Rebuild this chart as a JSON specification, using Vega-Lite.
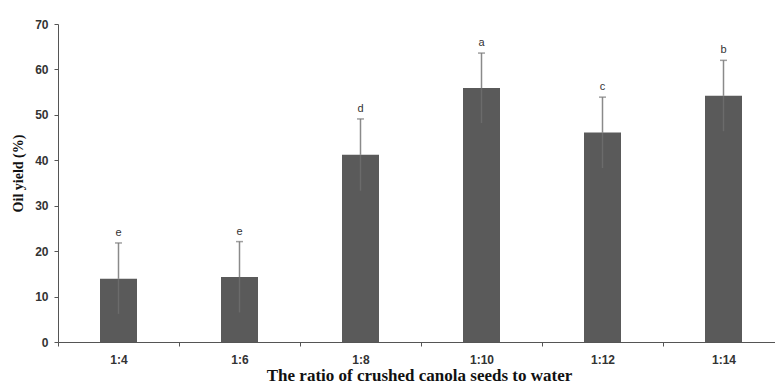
{
  "$schema": "https://vega.github.io/schema/vega-lite/v6.json",
  "width": 717,
  "height": 318,
  "autosize": "none",
  "padding": {"left": 58, "top": 24, "right": 0, "bottom": 43},
  "background": "white",
  "config": {"view": {"stroke": null}},
  "data": {
    "values": [
      {"ratio": "1:4", "yield": 13.9, "low": 6.2, "high": 21.8, "letter": "e"},
      {"ratio": "1:6", "yield": 14.3, "low": 6.5, "high": 22.1, "letter": "e"},
      {"ratio": "1:8", "yield": 41.2, "low": 33.3, "high": 49.1, "letter": "d"},
      {"ratio": "1:10", "yield": 55.9, "low": 48.2, "high": 63.6, "letter": "a"},
      {"ratio": "1:12", "yield": 46.1, "low": 38.3, "high": 53.9, "letter": "c"},
      {"ratio": "1:14", "yield": 54.2, "low": 46.4, "high": 62.0, "letter": "b"}
    ]
  },
  "encoding": {
    "x": {
      "field": "ratio",
      "type": "nominal",
      "sort": null,
      "scale": {"type": "band", "paddingInner": 0, "paddingOuter": 0, "range": [0, 726]},
      "axis": {
        "title": "The ratio of crushed canola seeds to water",
        "titleFont": "Liberation Serif",
        "titleFontSize": 17,
        "titleFontWeight": "bold",
        "titleColor": "#111",
        "titlePadding": 2,
        "titleX": 361,
        "labelAngle": 0,
        "labelFont": "Liberation Sans",
        "labelFontSize": 12,
        "labelFontWeight": "bold",
        "labelColor": "#333",
        "labelPadding": 8,
        "tickBand": "extent",
        "tickSize": 4,
        "tickColor": "#555",
        "domainColor": "#555",
        "grid": false
      }
    }
  },
  "layer": [
    {
      "mark": {"type": "bar", "size": 37, "color": "#5a5a5a"},
      "encoding": {
        "y": {
          "field": "yield",
          "type": "quantitative",
          "scale": {"domain": [0, 70]},
          "axis": {
            "title": "Oil yield (%)",
            "titleFont": "Liberation Serif",
            "titleFontSize": 14,
            "titleFontWeight": "bold",
            "titleColor": "#111",
            "titlePadding": 9,
            "titleY": 149,
            "values": [0, 10, 20, 30, 40, 50, 60, 70],
            "labelFont": "Liberation Sans",
            "labelFontSize": 12,
            "labelFontWeight": "bold",
            "labelColor": "#333",
            "labelPadding": 6,
            "tickSize": 4,
            "tickColor": "#555",
            "domainColor": "#555",
            "grid": false
          }
        }
      }
    },
    {
      "mark": {"type": "rule", "color": "#6b6b6b", "strokeWidth": 1.5},
      "encoding": {
        "y": {"field": "low", "type": "quantitative"},
        "y2": {"field": "yield"}
      }
    },
    {
      "mark": {"type": "rule", "color": "#8a8a8a", "strokeWidth": 1.5},
      "encoding": {
        "y": {"field": "yield", "type": "quantitative"},
        "y2": {"field": "high"}
      }
    },
    {
      "mark": {"type": "tick", "color": "#777", "thickness": 1.5, "size": 7},
      "encoding": {
        "y": {"field": "high", "type": "quantitative"}
      }
    },
    {
      "mark": {"type": "text", "baseline": "bottom", "dy": -5, "font": "Liberation Sans", "fontSize": 11, "color": "#333"},
      "encoding": {
        "y": {"field": "high", "type": "quantitative"},
        "text": {"field": "letter"}
      }
    }
  ]
}
